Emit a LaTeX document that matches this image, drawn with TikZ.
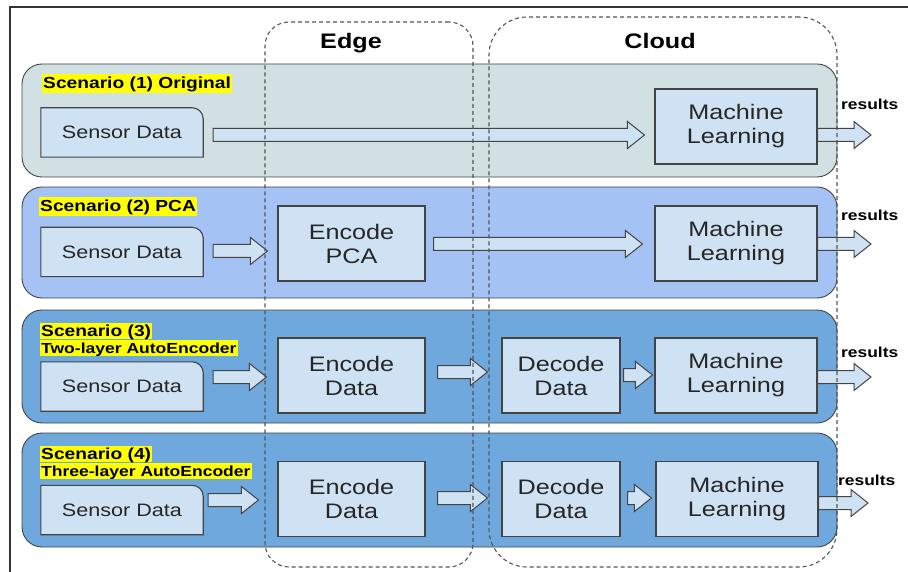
\documentclass[tikz,border=0pt]{standalone}
\usepackage{fontspec}
\setmainfont{Liberation Sans}[FakeStretch=1.2]
\usetikzlibrary{calc}
\definecolor{rowA}{HTML}{D0E0E3}
\definecolor{rowB}{HTML}{A4C2F4}
\definecolor{rowC}{HTML}{6FA8DC}
\definecolor{boxfill}{HTML}{CFE2F3}
\definecolor{linec}{HTML}{444444}
\definecolor{dashc}{HTML}{555555}
\definecolor{hl}{HTML}{FFFF00}
\definecolor{framec}{HTML}{333333}
\pgfdeclarelayer{bg}\pgfdeclarelayer{mid}\pgfsetlayers{bg,mid,main}
\tikzset{
 scen/.style={draw=linec, line width=0.9pt, rounded corners=20pt},
 inbox/.style={draw=linec, fill=boxfill, line width=1.1pt, minimum height=75pt, align=center,
   font=\fontsize{21pt}{24pt}\selectfont, text=black!85, inner sep=0pt},
 sensorbox/.style={minimum width=162pt, minimum height=49pt, font=\fontsize{18pt}{20pt}\selectfont,
   text=black!85, inner sep=0pt},
 sensoredge/.style={draw=linec, fill=boxfill, line width=1.1pt},
 blk/.style={draw=linec, fill=boxfill, line width=1pt, line join=miter},
 zone/.style={draw=dashc, line width=1.1pt, dash pattern=on 4pt off 3pt, inner sep=0pt},
 tag/.style={fill=hl, font=\bfseries\fontsize{16pt}{18pt}\selectfont, inner xsep=1pt, inner ysep=1pt,
   text height=14pt, text depth=3pt, anchor=base west},
 tagsmall/.style={fill=hl, font=\bfseries\fontsize{16pt}{18pt}\selectfont, inner xsep=1pt, inner ysep=0.5pt,
   text height=12.5pt, text depth=2pt, anchor=base west},
 tagsub/.style={fill=hl, font=\bfseries\fontsize{14.6pt}{16pt}\selectfont, inner xsep=1pt, inner ysep=0.5pt,
   text height=12.5pt, text depth=2pt, anchor=base west},
 zonetitle/.style={font=\bfseries\fontsize{21pt}{24pt}\selectfont, anchor=base, inner sep=0pt},
 res/.style={font=\bfseries\fontsize{14.5pt}{16pt}\selectfont, anchor=base west, inner sep=0pt},
}
\newcommand\sensornode[3]{%
 \node[sensorbox] (#1) at (#2,#3) {Sensor Data};
 \begin{pgfonlayer}{mid}
 \draw[sensoredge] (#1.south west) -- (#1.north west) -- ([xshift=-11pt]#1.north east)
   arc[start angle=90,end angle=0,radius=11pt] -- (#1.south east) -- cycle;
 \end{pgfonlayer}}
\newcommand\blockarrow[5]{%
 \draw[blk] let \p1=(#1), \p2=(#2), \p3=(0,#3) in
 ({\x1+#4pt},{\y3+6.5pt}) -- ({\x2-#5pt-17pt},{\y3+6.5pt}) -- ({\x2-#5pt-17pt},{\y3+13.5pt})
 -- ({\x2-#5pt},{\y3}) -- ({\x2-#5pt-17pt},{\y3-13.5pt}) -- ({\x2-#5pt-17pt},{\y3-6.5pt})
 -- ({\x1+#4pt},{\y3-6.5pt}) -- cycle;}
\begin{document}
\begin{tikzpicture}[x=1pt,y=-1pt]
\useasboundingbox (0,0) rectangle (908,572);
\draw[framec, line width=1.3pt] (908,7) -- (10,7) -- (10,572);
% scenario bands
\begin{pgfonlayer}{bg}
\draw[scen, fill=rowA] (22,64) rectangle (837,177);
\draw[scen, fill=rowB] (22,187) rectangle (837,298);
\draw[scen, fill=rowC] (22,310) rectangle (837,423);
\draw[scen, fill=rowC] (22,433) rectangle (837,547);
\end{pgfonlayer}
% labels
\node[tag] (t1) at (42,89) {Scenario (1) Original};
\node[tag] (t2) at (39,212) {Scenario (2) PCA};
\node[tagsmall] (t3) at (40,336) {Scenario (3)};
\node[tagsub] (t3b) at (40,353) {Two-layer AutoEncoder};
\node[tagsmall] (t4) at (40,459) {Scenario (4)};
\node[tagsub] (t4b) at (40,476) {Three-layer AutoEncoder};
% row 1
\sensornode{sd1}{122}{132.5}
\node[inbox, minimum width=162pt] (ml1) at (736,126.5) {Machine\\Learning};
\coordinate (r1) at (871,0);
\blockarrow{sd1.east}{ml1.west}{135}{10}{10}
\blockarrow{ml1.east}{r1}{135}{0}{0}
\node[res] (res1) at (841,110) {results};
% row 2
\sensornode{sd2}{122}{252}
\node[inbox, minimum width=147pt] (enc2) at (351.5,243.5) {Encode\\PCA};
\node[inbox, minimum width=162pt] (ml2) at (736,243.5) {Machine\\Learning};
\coordinate (r2) at (871,0);
\blockarrow{sd2.east}{enc2.west}{251}{10}{10}
\blockarrow{enc2.east}{ml2.west}{244}{8}{12}
\blockarrow{ml2.east}{r2}{244}{0}{0}
\node[res] (res2) at (841,221) {results};
% row 3
\sensornode{sd3}{122}{386.5}
\node[inbox, minimum width=147pt] (enc3) at (351.5,375.5) {Encode\\Data};
\node[inbox, minimum width=118pt] (dec3) at (561,375.5) {Decode\\Data};
\node[inbox, minimum width=162pt] (ml3) at (736,375.5) {Machine\\Learning};
\coordinate (r3) at (871,0);
\blockarrow{sd3.east}{enc3.west}{377}{10}{11}
\blockarrow{enc3.east}{dec3.west}{372}{12}{14}
\blockarrow{dec3.east}{ml3.west}{375}{3}{2}
\blockarrow{ml3.east}{r3}{377}{0}{0}
\node[res] (res3) at (841,357) {results};
% row 4
\sensornode{sd4}{122}{510}
\node[inbox, minimum width=147pt] (enc4) at (351.5,499) {Encode\\Data};
\node[inbox, minimum width=118pt] (dec4) at (561,499) {Decode\\Data};
\node[inbox, minimum width=162pt] (ml4) at (737,499) {Machine\\Learning};
\coordinate (r4) at (868,0);
\blockarrow{sd4.east}{enc4.west}{500}{5}{19}
\blockarrow{enc4.east}{dec4.west}{498}{12}{14}
\blockarrow{dec4.east}{ml4.west}{498}{7}{4}
\blockarrow{ml4.east}{r4}{503}{0}{0}
\node[res] (res4) at (838,485) {results};
% zones
\node[zone, rounded corners=24pt, minimum width=208pt, minimum height=545pt] (edge) at (369,294.5) {};
\node[zone, rounded corners=38pt, minimum width=348pt, minimum height=550pt] (cloud) at (663,292) {};
\node[zonetitle] (edget) at (351,49) {Edge};
\node[zonetitle] (cloudt) at (660,49) {Cloud};
\end{tikzpicture}
\end{document}
